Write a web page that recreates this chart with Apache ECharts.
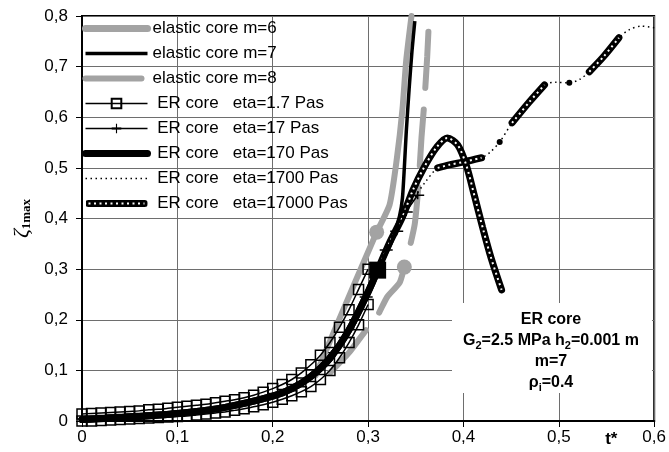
<!DOCTYPE html>
<html>
<head>
<meta charset="utf-8">
<script src="https://cdn.jsdelivr.net/npm/echarts@6/dist/echarts.min.js"></script>
</head>
<body style="margin:0; background:#fff">
<div id="main" style="width:669px;height:452px"></div>
<script type="text/javascript">

// values, [t*, zeta]
var elastic6 = [[0.245,0.09],[0.265,0.18],[0.287,0.277],[0.309,0.373],[0.3225,0.427],[0.33,0.516],[0.336,0.615],[0.34,0.713],[0.3455,0.80]];
var elastic6Mark = 3;
var elastic7 = [[0.2,0.049],[0.24,0.088],[0.28,0.18],[0.3,0.255],[0.315,0.315],[0.325,0.355],[0.333,0.405],[0.336,0.44],[0.338,0.5],[0.34,0.57],[0.343,0.655],[0.346,0.73],[0.349,0.79]];
var elastic8 = [[0.26,0.095],[0.28,0.135],[0.298,0.18],[0.309,0.205],[0.32,0.245],[0.333,0.273],[0.338,0.304],[0.343,0.338],[0.349,0.39],[0.353,0.47],[0.356,0.56],[0.359,0.63],[0.362,0.72],[0.364,0.8]];
var elastic8Mark = 6;

var tSquares = [0,0.01,0.02,0.03,0.04,0.05,0.06,0.07,0.08,0.09,0.1,0.11,0.12,0.13,0.14,0.15,0.16,0.17,0.18,0.19,0.2,0.21,0.22,0.23,0.24,0.25,0.26,0.27,0.28,0.29,0.3];
var eta1_7upper = [0.014,0.015,0.016,0.017,0.018,0.019,0.02,0.022,0.023,0.025,0.027,0.029,0.031,0.033,0.036,0.039,0.042,0.046,0.051,0.057,0.064,0.072,0.082,0.095,0.111,0.13,0.155,0.185,0.22,0.26,0.3];
var eta1_7lower = [0,0,0.001,0.002,0.003,0.004,0.005,0.006,0.007,0.008,0.009,0.01,0.012,0.014,0.016,0.018,0.021,0.024,0.028,0.032,0.037,0.043,0.05,0.058,0.068,0.082,0.1,0.125,0.155,0.19,0.23];

var eta17 = [[0.2,0.049],[0.24,0.088],[0.265,0.135],[0.276,0.165],[0.287,0.2],[0.298,0.245],[0.308,0.29],[0.319,0.338],[0.33,0.375],[0.34,0.413],[0.352,0.446]];
var eta17Hidden = 2; // first points carry no marker

var eta170 = [[0,0.003],[0.05,0.008],[0.1,0.015],[0.15,0.027],[0.2,0.049],[0.22,0.064],[0.24,0.088],[0.26,0.124],[0.28,0.18],[0.3,0.255],[0.31,0.298]];

var eta1700 = [[0,0.003],[0.05,0.008],[0.1,0.015],[0.15,0.027],[0.2,0.049],[0.22,0.064],[0.24,0.088],[0.26,0.124],[0.28,0.18],[0.3,0.255],[0.31,0.298],[0.32,0.34],[0.33,0.375],[0.34,0.412],[0.35,0.445],[0.36,0.472],[0.373,0.5],[0.385,0.506],[0.401,0.512],[0.419,0.52],[0.428,0.531],[0.438,0.551],[0.451,0.589],[0.469,0.63],[0.485,0.664],[0.497,0.669],[0.511,0.668],[0.522,0.675],[0.532,0.69],[0.547,0.72],[0.563,0.757],[0.574,0.773],[0.587,0.78],[0.6,0.777]];
var eta1700Dots = [21, 26];
var eta1700Thick = [[0.373,0.5],[0.385,0.506],[0.401,0.512],[0.419,0.52],[null,null],[0.451,0.589],[0.469,0.63],[0.485,0.664],[null,null],[0.532,0.69],[0.547,0.72],[0.563,0.757]];

var eta17000 = [[0,0.003],[0.05,0.008],[0.1,0.015],[0.15,0.027],[0.2,0.049],[0.22,0.064],[0.24,0.088],[0.26,0.124],[0.28,0.18],[0.3,0.255],[0.31,0.298],[0.3225,0.352],[0.336,0.403],[0.347,0.456],[0.359,0.502],[0.372,0.541],[0.383,0.559],[0.394,0.545],[0.403,0.505],[0.4115,0.445],[0.42,0.383],[0.429,0.322],[0.44,0.259]];

var names = ['elastic core m=6','elastic core m=7','elastic core m=8','ER core   eta=1.7 Pas','ER core   eta=17 Pas','ER core   eta=170 Pas','ER core   eta=1700 Pas','ER core   eta=17000 Pas'];

var GRAY = '#a3a3a3';
var FONT = 'Liberation Sans';
var plusPath = 'path://M0,3H12V4.4H0Z M5.3,0H6.7V7.4H5.3Z';
var dotLineIcon = 'image://data:image/svg+xml;charset=utf-8,' + encodeURIComponent(
  '<svg xmlns="http://www.w3.org/2000/svg" width="62" height="12">' +
  '<line x1="3" y1="6" x2="59" y2="6" stroke="black" stroke-width="7" stroke-linecap="round"/>' +
  '<line x1="3" y1="6" x2="59" y2="6" stroke="white" stroke-width="2" stroke-dasharray="2,3.5"/></svg>');

function marked(arr, idx, sym, size, color) {
  return arr.map(function (p, i) {
    if (i !== idx) return p;
    return { value: p, symbol: sym, symbolSize: size, itemStyle: { color: color } };
  });
}

var d6 = marked(elastic6, elastic6Mark, 'circle', 15, GRAY);
var d8 = marked(elastic8, elastic8Mark, 'circle', 15, GRAY);
var d170 = marked(eta170, eta170.length - 1, 'rect', 17, '#000');
var d1700 = eta1700.map(function (p, i) {
  return eta1700Dots.indexOf(i) >= 0 ? { value: p, symbol: 'circle', symbolSize: 6, itemStyle: { color: '#000' } } : p;
});
var d17 = eta17.map(function (p, i) {
  return i < eta17Hidden ? { value: p, symbol: 'none' } : p;
});
var dUpper = tSquares.map(function (t, i) { return [t, eta1_7upper[i]]; });
var dLower = tSquares.map(function (t, i) { return [t, eta1_7lower[i]]; });

function comma(v) {
  if (v === 0) return '0';
  return String(+v.toFixed(1)).replace('.', ',');
}

// legend entries without a marker
var noMark = { opacity: 0 };

var chart = echarts.init(document.getElementById('main'));
var option = {
  animation: false,
  backgroundColor: '#fff',
  grid: { left: 82, right: 14, top: 16, bottom: 31, show: true, borderColor: '#000', borderWidth: 2, backgroundColor: 'transparent' },
  legend: {
    orient: 'vertical', left: 82, top: 20, padding: 0,
    itemWidth: 62, itemHeight: 12, itemGap: 8,
    selectedMode: false,
    textStyle: { fontFamily: FONT, fontSize: 17, color: '#000', lineHeight: 17 },
    formatter: function (n) { return n.indexOf('ER') === 0 ? ' ' + n : n; },
    data: [
      { name: names[0], itemStyle: noMark, lineStyle: { width: 7, color: GRAY } },
      { name: names[1], itemStyle: noMark, lineStyle: { width: 3.5, color: '#000' } },
      { name: names[2], itemStyle: noMark, lineStyle: { width: 6, color: GRAY } },
      { name: names[3], lineStyle: { width: 1.5 } },
      { name: names[4], lineStyle: { width: 1.5 } },
      { name: names[5], itemStyle: noMark, lineStyle: { width: 7, color: '#000' } },
      { name: names[6], itemStyle: noMark, lineStyle: { width: 1.5 } },
      { name: names[7], icon: dotLineIcon }
    ]
  },
  xAxis: {
    type: 'value', min: 0, max: 0.6, interval: 0.1,
    name: 't*', nameLocation: 'end', nameGap: -49,
    nameTextStyle: { fontFamily: FONT, fontWeight: 'bold', fontSize: 17, color: '#000', verticalAlign: 'top', padding: [10, 0, 0, 0] },
    axisLine: { show: true, lineStyle: { color: '#000', width: 2 } },
    axisTick: { show: true, inside: false, length: 6, lineStyle: { color: '#000', width: 1 } },
    axisLabel: { fontFamily: FONT, fontSize: 17, color: '#000', margin: 8, formatter: comma },
    splitLine: { show: true, lineStyle: { color: '#6e6e6e', width: 1 } }
  },
  yAxis: {
    type: 'value', min: 0, max: 0.8, interval: 0.1,
    name: '{z|ζ}{s|1max}', nameLocation: 'middle', nameRotate: 90, nameGap: 44,
    nameTextStyle: {
      rich: {
        z: { fontFamily: 'Liberation Serif', fontStyle: 'italic', fontSize: 22, color: '#000' },
        s: { fontFamily: 'Liberation Serif', fontWeight: 'bold', fontSize: 13, color: '#000', verticalAlign: 'bottom', padding: [10, 0, 0, 0] }
      }
    },
    axisLine: { show: true, lineStyle: { color: '#000', width: 2 } },
    axisTick: { show: true, inside: false, length: 6, lineStyle: { color: '#000', width: 1 } },
    axisLabel: { fontFamily: FONT, fontSize: 17, color: '#000', margin: 14, formatter: comma },
    splitLine: { show: true, lineStyle: { color: '#6e6e6e', width: 1 } }
  },
  graphic: [
    { type: 'rect', left: 452, top: 303, shape: { width: 200, height: 90 }, style: { fill: '#fff' }, z: 5 },
    {
      type: 'text', x: 551, y: 309, z: 6,
      style: {
        text: 'ER core\nG{s|2}=2.5 MPa h{s|2}=0.001 m\nm=7\nρ{s|i}=0.4',
        align: 'center', verticalAlign: 'top',
        fontFamily: FONT, fontWeight: 'bold', fontSize: 16, lineHeight: 21, fill: '#000',
        rich: { s: { fontFamily: FONT, fontWeight: 'bold', fontSize: 11, lineHeight: 14, verticalAlign: 'bottom', fill: '#000' } }
      }
    }
  ],
  series: [
    { name: names[0], type: 'line', data: d6, smooth: 0.2, symbol: 'none',
      lineStyle: { color: GRAY, width: 6, cap: 'round' }, itemStyle: { color: GRAY } },
    { name: names[2], type: 'line', data: d8, smooth: 0.2, symbol: 'none',
      lineStyle: { color: GRAY, width: 6, type: [56, 22], cap: 'round' }, itemStyle: { color: GRAY } },
    { name: names[6], type: 'line', data: d1700, smooth: 0.3, symbol: 'none',
      lineStyle: { color: '#000', width: 1.5, type: [1.5, 3.5] }, itemStyle: { color: '#000' } },
    { name: names[6], type: 'line', data: eta1700Thick, smooth: 0.3, symbol: 'none', connectNulls: false,
      lineStyle: { color: '#000', width: 7, cap: 'round' }, itemStyle: { color: '#000' } },
    { name: names[6], type: 'line', data: eta1700Thick, smooth: 0.3, symbol: 'none', connectNulls: false,
      lineStyle: { color: '#fff', width: 2, type: [2, 3.5] } },
    { name: names[7], type: 'line', data: eta17000, smooth: 0.3, symbol: 'none',
      lineStyle: { color: '#000', width: 7, cap: 'round' }, itemStyle: { color: '#000' } },
    { name: names[7], type: 'line', data: eta17000, smooth: 0.3, symbol: 'none',
      lineStyle: { color: '#fff', width: 2, type: [2, 3.5] } },
    { name: names[5], type: 'line', data: d170, smooth: 0.3, symbol: 'none',
      lineStyle: { color: '#000', width: 7, cap: 'round' }, itemStyle: { color: '#000' } },
    { name: names[1], type: 'line', data: elastic7, smooth: 0.2, symbol: 'none',
      lineStyle: { color: '#000', width: 3.5 }, itemStyle: { color: '#000' } },
    { name: names[3], type: 'line', data: dUpper, smooth: 0.3, symbol: 'rect', symbolSize: 10,
      lineStyle: { color: '#000', width: 1.5 }, itemStyle: { color: 'rgba(255,255,255,0)', borderColor: '#000', borderWidth: 1.5 } },
    { name: names[3], type: 'line', data: dLower, smooth: 0.3, symbol: 'rect', symbolSize: 10,
      lineStyle: { color: '#000', width: 1.5 }, itemStyle: { color: 'rgba(255,255,255,0)', borderColor: '#000', borderWidth: 1.5 } },
    { name: names[4], type: 'line', data: d17, smooth: 0.3, symbol: plusPath, symbolSize: [13, 8],
      lineStyle: { color: '#000', width: 1.5 }, itemStyle: { color: '#000' } }
  ]
};
chart.setOption(option);

</script>
</body>
</html>
